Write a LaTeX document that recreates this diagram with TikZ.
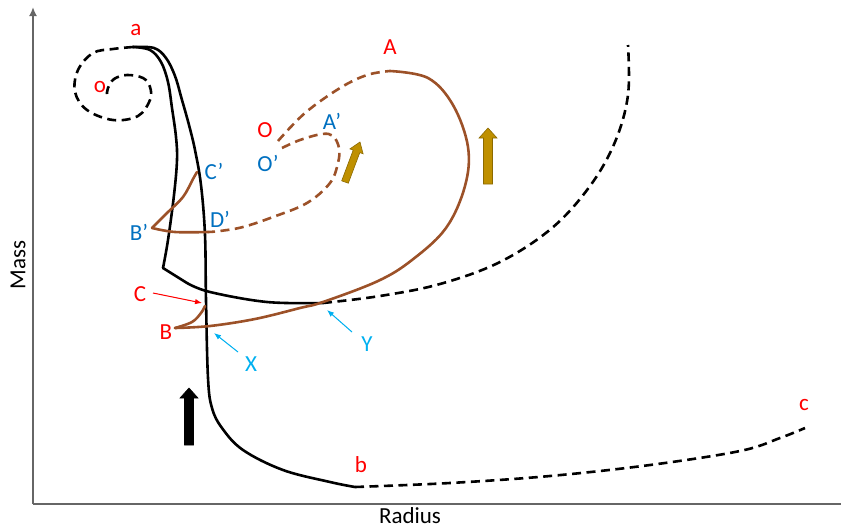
\documentclass[tikz,border=0pt]{standalone}
\usepackage{fontspec}
\setmainfont{Carlito}
\usetikzlibrary{arrows.meta}
\definecolor{labred}{HTML}{FF0000}
\definecolor{labblue}{HTML}{0070C0}
\definecolor{labcyan}{HTML}{00B0F0}
\definecolor{trackbrown}{HTML}{9C5128}
\definecolor{goldfill}{HTML}{BF9000}
\definecolor{goldedge}{HTML}{8C6A00}
\definecolor{axisgray}{HTML}{666666}
\begin{document}
\begin{tikzpicture}[x=1pt,y=-1pt,
  lab/.style={font=\fontsize{23}{27}\selectfont, inner sep=1pt},
  redlab/.style={lab, text=labred},
  bluelab/.style={lab, text=labblue},
  cyanlab/.style={lab, text=labcyan},
  blacktrack/.style={draw=black, line width=2.6pt, line cap=round, line join=round},
  browntrack/.style={draw=trackbrown, line width=2.6pt, line cap=round, line join=round},
  dashtrack/.style={dash pattern=on 9pt off 5.5pt, line cap=butt},
  axisline/.style={draw=axisgray, line width=1.8pt},
  pointer/.style={line width=1pt, -{Latex[length=7pt,width=5.5pt]}},
  goldarrow/.style={fill=goldfill, draw=goldedge, line width=0.6pt, line join=miter},
  blackarrow/.style={fill=black, draw=black, line width=0.6pt}
]
\useasboundingbox (0,0) rectangle (841,531);

% axes
\coordinate (origin) at (33,504);
\coordinate (ytop) at (33,7);
\coordinate (xend) at (841,504);
\draw[axisline, -{Latex[length=9pt,width=8pt]}] (origin) -- (ytop);
\draw[axisline] (origin) -- (xend);
\node[lab, rotate=90] (mass) at (18,265) {Mass};
\node[lab] (radius) at (410,516) {Radius};

% key points
\coordinate (pa) at (133,47);
\coordinate (pb) at (355,487);
\coordinate (pc) at (805,428);
\coordinate (pY) at (323,303);
\coordinate (pO) at (278,141);
\coordinate (pA) at (390,71);
\coordinate (pB) at (175,328);
\coordinate (pC) at (205,306);
\coordinate (pOp) at (282,148);
\coordinate (pDp) at (208,232);
\coordinate (pBp) at (152,228);
\coordinate (pCp) at (197,172);
\coordinate (pk) at (163,268);

% black spiral (dashed)
\draw[blacktrack, dashtrack] plot[smooth, tension=0.6] coordinates {
  (133,47) (113,49) (93,53) (78,70) (75,92) (87,110) (113,120) (138,116) (150,100)
  (150,87) (143,78) (127,75) (114,79) (108,88) (107,94)};

% black inner branch a -> kink -> Y
\draw[blacktrack] plot[smooth, tension=0.6] coordinates {
  (133,47) (150,50) (161,62) (168,82) (172,108) (176,137) (177,160) (174,195) (168,240) (163,268)};
\draw[blacktrack] (pk) -- (187,283) plot[smooth, tension=0.6] coordinates {
  (187,283) (210,292) (267,302) (323,303)};

% black outer branch a -> b
\draw[blacktrack] plot[smooth, tension=0.6] coordinates {
  (133,47) (154,48) (166,58) (175,76) (182,100) (189,125) (195,150) (201,185) (205,235)
  (206,300) (208,378) (212,408) (222,428) (243,450) (283,470) (330,482) (355,487)};

% dashed black continuations
\draw[blacktrack, dashtrack] plot[smooth, tension=0.6] coordinates {
  (323,303) (380,296) (440,284) (500,262) (552,228) (590,186) (615,142) (628,95) (628,45)};
\draw[blacktrack, dashtrack] plot[smooth, tension=0.6] coordinates {
  (355,487) (450,483) (550,476) (650,465) (740,451) (780,438) (805,428)};

% brown outer loop
\draw[browntrack, dashtrack] plot[smooth, tension=0.6] coordinates {
  (278,141) (305,113) (340,88) (367,75) (390,71)};
\draw[browntrack] plot[smooth, tension=0.6] coordinates {
  (390,71) (428,78) (453,105) (468,147) (465,186) (446,228) (412,260) (378,281)
  (323,302) (300,308) (255,319) (210,326) (175,328)};
\draw[browntrack] plot[smooth, tension=0.6] coordinates {
  (175,328) (192,322) (201,313) (205,306)};

% brown inner loop
\draw[browntrack, dashtrack] plot[smooth, tension=0.6] coordinates {
  (282,148) (300,140) (322,134) (333,136) (339,148) (338,163) (330,183) (307,203)
  (273,217) (243,227) (220,231) (208,232)};
\draw[browntrack] plot[smooth, tension=0.6] coordinates {
  (208,232) (175,232) (152,228)};
\draw[browntrack] plot[smooth, tension=0.6] coordinates {
  (152,228) (167,213) (183,197) (193,179) (197,172)};

% labels
\node[redlab] (la) at (136,30) {a};
\node[redlab] (lo) at (100,87) {o};
\node[redlab] (lA) at (390,47) {A};
\node[redlab] (lO) at (265,130) {O};
\node[bluelab] (lAp) at (332,121) {A'};
\node[bluelab] (lOp) at (268,163) {O'};
\node[bluelab] (lCp) at (214,171) {C'};
\node[bluelab] (lBp) at (139,232) {B'};
\node[bluelab] (lDp) at (220,219) {D'};
\node[redlab] (lC) at (140,294) {C};
\node[redlab] (lB) at (166,332) {B};
\node[cyanlab] (lX) at (251,364) {X};
\node[cyanlab] (lY) at (367,344) {Y};
\node[redlab] (lb) at (361,465) {b};
\node[redlab] (lc) at (804,405) {c};

% pointer arrows
\coordinate (Ctail) at (153,293);
\coordinate (Ctip) at (202,303);
\coordinate (Xtail) at (238,352);
\coordinate (Xtip) at (214,333);
\coordinate (Ytail) at (352,332);
\coordinate (Ytip) at (327,310);
\draw[pointer, draw=labred, fill=labred] (Ctail) -- (Ctip);
\draw[pointer, draw=labcyan, fill=labcyan] (Xtail) -- (Xtip);
\draw[pointer, draw=labcyan, fill=labcyan] (Ytail) -- (Ytip);

% block arrows
\draw[blackarrow] (184.5,445) -- (184.5,398) -- (180,398) -- (189,388) -- (198,398)
  -- (193.5,398) -- (193.5,445) -- cycle;
\draw[goldarrow] (483.5,184) -- (483.5,138) -- (479,138) -- (488,128) -- (497,138)
  -- (492.5,138) -- (492.5,184) -- cycle;
\draw[goldarrow] (341.7,180.8) -- (353.2,150.1) -- (349.9,148.9) -- (360,142)
  -- (363.1,153.8) -- (359.8,152.6) -- (348.3,183.2) -- cycle;
\end{tikzpicture}
\end{document}
